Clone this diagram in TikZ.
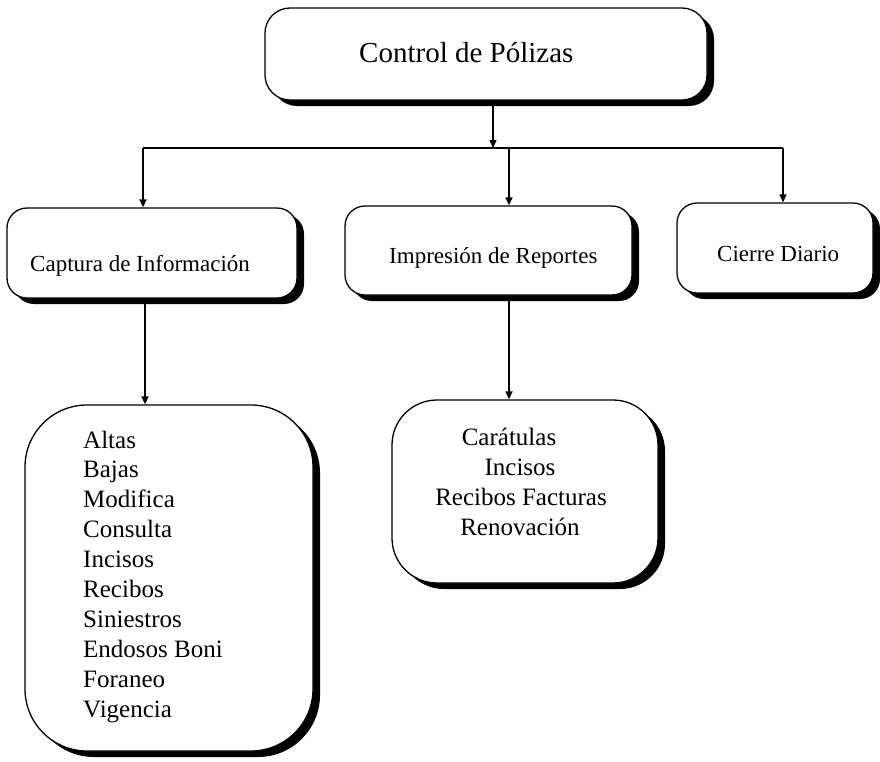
\documentclass[tikz,border=0pt]{standalone}
\usepackage{fontspec}
\setmainfont{Liberation Serif}
\usetikzlibrary{arrows.meta,shadows}
\begin{document}
\begin{tikzpicture}[x=1pt,y=-1pt,
  box/.style={draw=black,line width=1.3pt,fill=white,inner sep=0pt,
    drop shadow={shadow xshift=7pt,shadow yshift=-6pt,fill=black,opacity=1}},
  conn/.style={line width=1.4pt,draw=black},
  arr/.style={conn,-{Triangle[length=8pt,width=7pt]}},
  ttl/.style={font=\fontsize{29}{35}\selectfont,inner sep=0pt},
  captxt/.style={font=\fontsize{23}{28}\selectfont,inner sep=0pt},
  itm/.style={font=\fontsize{25}{30}\selectfont,inner sep=0pt}]
\fill[white] (0,0) rectangle (880,761);
\useasboundingbox (0,0) rectangle (880,761);
% boxes
\node[box,rounded corners=25pt,minimum width=442pt,minimum height=92pt] (top) at (486,54) {};
\node[box,rounded corners=20pt,minimum width=290pt,minimum height=90pt] (capt) at (152,253) {};
\node[box,rounded corners=20pt,minimum width=287pt,minimum height=89pt] (impr) at (488.5,250.5) {};
\node[box,rounded corners=20pt,minimum width=196pt,minimum height=90pt] (cierre) at (775,248) {};
\node[box,rounded corners=62pt,minimum width=288pt,minimum height=346pt] (lista) at (169,578) {};
\node[box,rounded corners=45pt,minimum width=266pt,minimum height=183pt] (listb) at (525,491.5) {};
% texts
\node[ttl,anchor=base west] (ttop) at (359,62) {Control de Pólizas};
\node[captxt,anchor=base west] (tcapt) at (30,271) {Captura de Información};
\node[captxt,anchor=base west] (timpr) at (389,263) {Impresión de Reportes};
\node[captxt,anchor=base west] (tcierre) at (717,261) {Cierre Diario};
\foreach \t [count=\i from 0] in {Altas,Bajas,Modifica,Consulta,Incisos,Recibos,Siniestros,Endosos Boni,Foraneo,Vigencia}
  \node[itm,anchor=base west] (la\i) at (83,{448+29.9*\i}) {\t};
\node[itm,anchor=base] (lb0) at (509,445) {Carátulas};
\node[itm,anchor=base] (lb1) at (520,475) {Incisos};
\node[itm,anchor=base] (lb2) at (521,505) {Recibos Facturas};
\node[itm,anchor=base] (lb3) at (520,535) {Renovación};
% connectors
\coordinate (busT) at (493,148);
\coordinate (busL) at (143,148);
\coordinate (busM) at (509,148);
\coordinate (busR) at (783,148);
\draw[arr] (top.south -| busT) -- (busT);
\draw[conn] (busL) -- (busR);
\draw[arr] (busL) -- (capt.north -| busL);
\draw[arr] (busM) -- (impr.north -| busM);
\draw[arr] (busR) -- (cierre.north -| busR);
\coordinate (cx) at (145,0);
\draw[arr] (capt.south -| cx) -- (lista.north -| cx);
\draw[arr] (impr.south -| busM) -- (listb.north -| busM);
\end{tikzpicture}
\end{document}
